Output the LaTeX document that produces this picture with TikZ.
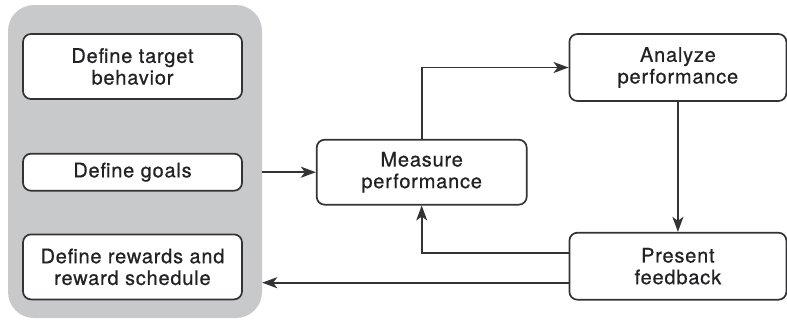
\documentclass[tikz,border=0pt]{standalone}
\usepackage{fontspec}
\setmainfont{TeX Gyre Heros}[LetterSpace=4, FakeBold=0.6]
\usepackage{xcolor}
\usetikzlibrary{positioning, arrows.meta}
\definecolor{linegray}{HTML}{333335}
\definecolor{panelgray}{HTML}{C8C9CB}
\definecolor{textgray}{HTML}{222224}

\begin{document}
\begin{tikzpicture}[x=1pt, y=-1pt,
    stepnode/.style={rectangle, rounded corners=8pt, draw=linegray, fill=white, line width=1.7pt,
        minimum width=219pt, minimum height=65pt, align=center, text=textgray,
        font=\fontsize{20}{21.7}\selectfont},
    panelnode/.style={rectangle, rounded corners=26pt, fill=panelgray, minimum width=254pt, minimum height=313pt},
    flow/.style={draw=linegray, line width=1.9pt, -{Stealth[length=15pt, width=11pt, inset=4pt]}}
    ]
    \useasboundingbox (0,0) rectangle (787,322);
    \node[panelnode]      (panel)     at (135,161.5)    {};
    \node[stepnode]       (target)    at (132.5,66.5)   {Define target\\behavior};
    \node[stepnode, minimum height=37pt] (goals) [below=53pt of target] {Define goals};
    \node[stepnode]       (rewards)   [below=42pt of goals]   {Define rewards and\\reward schedule};
    \node[stepnode, minimum width=210pt] (measure) [right=73pt of goals] {Measure\\performance};
    \node[stepnode, minimum width=217pt, minimum height=67pt] (analyze) [above right=37pt and 41pt of measure] {Analyze\\performance};
    \node[stepnode, minimum width=217pt, minimum height=67pt] (present) [below=130pt of analyze] {Present\\feedback};

    \draw[flow] (panel.east |- measure.west) -- (measure.west);
    \draw[flow] (measure.north) |- (analyze.west);
    \draw[flow] (analyze.south) -- (present.north);
    \draw[flow] ([yshift=13.5pt]present.west) -| (measure.south);
    \draw[flow] ([yshift=-16.5pt]present.west) -- ([yshift=-16.5pt]panel.east |- present.west);
\end{tikzpicture}
\end{document}
